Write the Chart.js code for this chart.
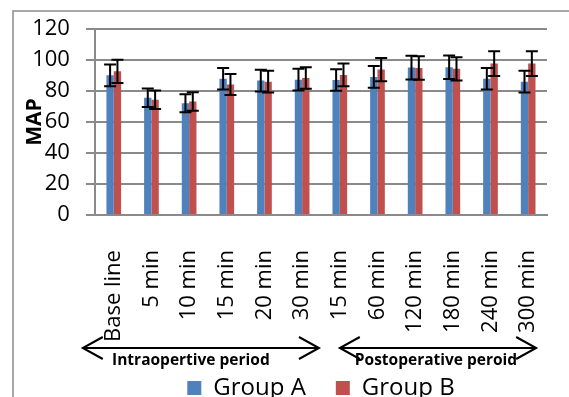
<!DOCTYPE html>
<html>
<head>
<meta charset="utf-8">
<script src="https://cdn.jsdelivr.net/npm/chart.js@4/dist/chart.umd.min.js"></script>
<style>
  html, body { margin: 0; background: #fff; }
  #wrap { width: 569px; height: 397px; position: relative; }
</style>
</head>
<body>
<div id="wrap"><canvas id="mapChart"></canvas></div>
<script>
// MAP per time point, mean and SD
const timePoints = ["Base line", "5 min", "10 min", "15 min", "20 min", "30 min",
                    "15 min", "60 min", "120 min", "180 min", "240 min", "300 min"];
const groupA   = [90.2, 75.7, 72.2, 88.0, 86.8, 87.4, 87.2, 89.2, 95.2, 95.4, 88.0, 86.1];
const groupASd = [7.0, 6.0, 5.8, 7.0, 7.0, 7.0, 7.0, 7.0, 7.6, 7.6, 7.0, 7.0];
const groupB   = [92.8, 74.4, 73.3, 84.3, 86.1, 88.5, 90.5, 93.9, 95.0, 94.4, 97.8, 97.8];
const groupBSd = [7.5, 6.0, 6.0, 6.8, 7.0, 7.0, 7.4, 7.5, 7.6, 7.5, 8.0, 8.0];
const periods  = [
  { text: "Intraopertive period", from: 0, to: 5 },
  { text: "Postoperative peroid", from: 6, to: 11 }
];

const FONT = "'Open Sans', 'Noto Sans', sans-serif";
const GRID = "#8a8a8a";

// outer frame (only left/top edges fall inside the picture)
const framePlugin = {
  id: "frame",
  beforeDraw(chart){
    const ctx = chart.ctx;
    ctx.save();
    ctx.strokeStyle = GRID;
    ctx.lineWidth = 1.5;
    ctx.strokeRect(13, 11, 700, 700);
    ctx.restore();
  }
};

// SD error bars on top of each bar
const errorBarPlugin = {
  id: "errorBars",
  afterDatasetsDraw(chart){
    const ctx = chart.ctx;
    const y = chart.scales.y;
    const sds = [groupASd, groupBSd];
    ctx.save();
    ctx.strokeStyle = "#000";
    ctx.lineWidth = 2;
    chart.data.datasets.forEach((ds, di) => {
      chart.getDatasetMeta(di).data.forEach((bar, i) => {
        const v = ds.data[i], sd = sds[di][i];
        const top = y.getPixelForValue(v + sd), bot = y.getPixelForValue(v - sd);
        ctx.beginPath();
        ctx.moveTo(bar.x, top); ctx.lineTo(bar.x, bot);
        ctx.moveTo(bar.x - 6, top); ctx.lineTo(bar.x + 6, top);
        ctx.moveTo(bar.x - 6, bot); ctx.lineTo(bar.x + 6, bot);
        ctx.stroke();
      });
    });
    ctx.restore();
  }
};

// double arrows with period names under the time labels
const periodPlugin = {
  id: "periods",
  afterDraw(chart){
    const ctx = chart.ctx;
    const x = chart.scales.x;
    const step = x.getPixelForValue(1) - x.getPixelForValue(0);
    const ay = x.bottom + 2;
    ctx.save();
    ctx.strokeStyle = "#000";
    ctx.lineWidth = 2;
    ctx.fillStyle = "#000";
    ctx.font = `bold 15.5px ${FONT}`;
    ctx.textAlign = "center";
    ctx.textBaseline = "middle";
    const spans = [
      [x.getPixelForValue(periods[0].from) - 31, x.getPixelForValue(periods[0].to) + step / 2 - 2],
      [x.getPixelForValue(periods[1].from), x.getPixelForValue(periods[1].to) + 8]
    ];
    periods.forEach((p, k) => {
      const [x0, x1] = spans[k];
      ctx.beginPath();
      ctx.moveTo(x0, ay); ctx.lineTo(x1, ay);
      ctx.moveTo(x0 + 20, ay - 11); ctx.lineTo(x0, ay); ctx.lineTo(x0 + 20, ay + 11);
      ctx.moveTo(x1 - 20, ay - 11); ctx.lineTo(x1, ay); ctx.lineTo(x1 - 20, ay + 11);
      ctx.stroke();
      ctx.fillText(p.text, (x0 + x1) / 2 + (k ? -2 : -10), ay + 13);
    });
    ctx.restore();
  }
};

new Chart(document.getElementById("mapChart"), {
  type: "bar",
  data: {
    labels: timePoints,
    datasets: [
      { label: "Group A", data: groupA, backgroundColor: "#4f81bd" },
      { label: "Group B", data: groupB, backgroundColor: "#c0504d" }
    ]
  },
  options: {
    responsive: true,
    maintainAspectRatio: false,
    animation: false,
    datasets: { bar: { categoryPercentage: 0.39, barPercentage: 1.0 } },
    layout: { padding: { top: 27.8, left: 14, right: 22, bottom: -13 } },
    plugins: {
      tooltip: { enabled: false },
      legend: {
        position: "bottom",
        fullSize: false,
        labels: { boxWidth: 14, boxHeight: 14, padding: 30, color: "#000", font: { family: FONT, size: 24 } }
      }
    },
    scales: {
      x: {
        grid: { display: false, drawTicks: true, tickLength: 30 },
        border: { display: true, color: GRID, width: 2 },
        ticks: { minRotation: 90, maxRotation: 90, padding: 5, color: "#000", font: { family: FONT, size: 22 } },
        afterFit: s => { s.height -= 1; }
      },
      y: {
        min: 0, max: 120,
        ticks: { stepSize: 20, autoSkip: false, padding: 16, color: "#000", font: { family: FONT, size: 22 } },
        grid: { color: GRID, lineWidth: 2, tickLength: 9 },
        border: { color: GRID, width: 2 },
        title: {
          display: true, text: "MAP", color: "#000",
          font: { family: FONT, size: 21, weight: "bold" },
          padding: { top: 8, bottom: -31 }
        }
      }
    }
  },
  plugins: [framePlugin, errorBarPlugin, periodPlugin]
});
</script>
</body>
</html>
